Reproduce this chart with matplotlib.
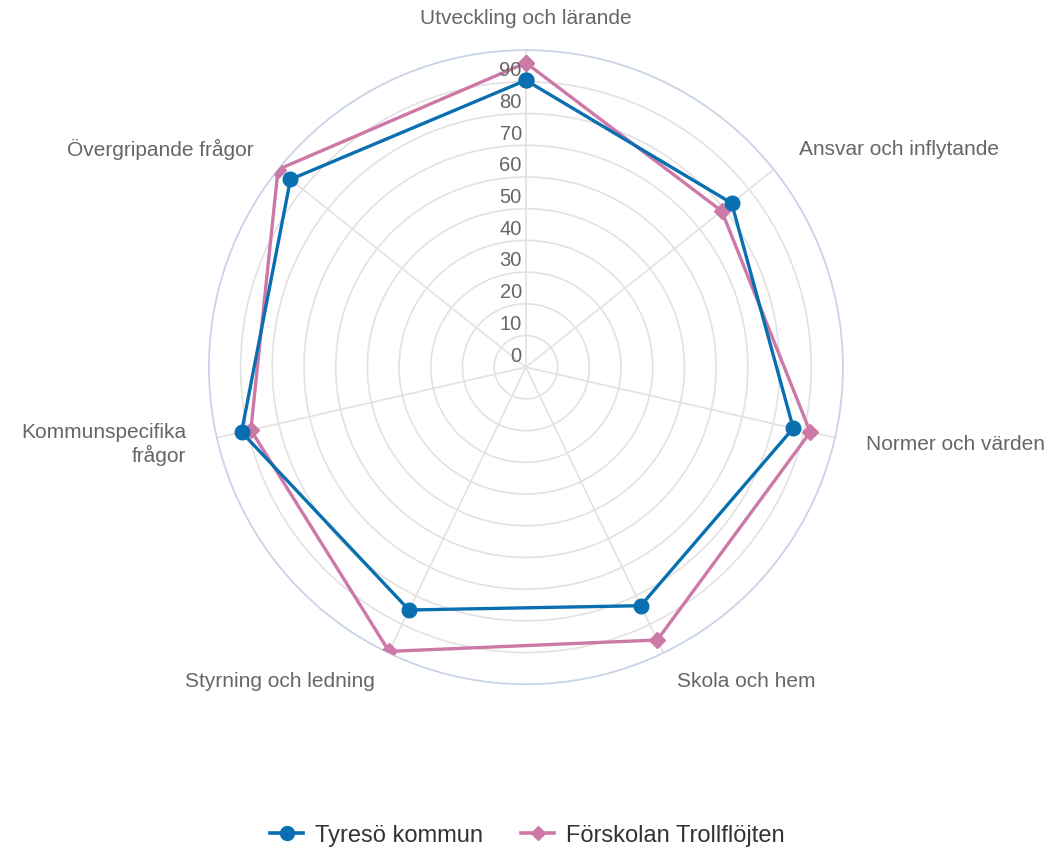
import numpy as np
import matplotlib
matplotlib.use("Agg")
import matplotlib.pyplot as plt
from matplotlib.lines import Line2D

# data
categories = ["Utveckling och lärande", "Ansvar och inflytande", "Normer och värden",
              "Skola och hem", "Styrning och ledning", "Kommunspecifika\nfrågor",
              "Övergripande frågor"]
tyreso = [90.5, 83, 86.5, 83.5, 85, 92, 95]
trollflojten = [96, 79, 92, 95.5, 99.5, 89, 100]
ticks = [0, 10, 20, 30, 40, 50, 60, 70, 80, 90]

blue = "#0a6fb0"
pink = "#cc79a7"
text_grey = "#666666"

plt.rcParams['font.family'] = ['Liberation Sans', 'DejaVu Sans']

fig = plt.figure(figsize=(10.55, 8.5), dpi=100)
ax = fig.add_axes([0.198, 0.195, 0.601, 0.746], projection='polar')
ax.set_theta_zero_location('N')
ax.set_theta_direction(-1)

n = len(categories)
angles = np.arange(n) * 2 * np.pi / n
closed = np.append(angles, angles[0])

ax.set_ylim(0, 100)
ax.set_rticks(ticks[1:])
ax.set_yticklabels([])
ax.set_xticks(angles)
ax.set_xticklabels([])
ax.grid(True, color="#e2e2e2", linewidth=1.2)
ax.spines['polar'].set_color("#c9d3e8")
ax.spines['polar'].set_linewidth(1.3)

# series
ax.plot(closed, tyreso + tyreso[:1], color=blue, linewidth=2.4, marker='o',
        markersize=10.5, zorder=4)
ax.plot(closed, trollflojten + trollflojten[:1], color=pink, linewidth=2.4, marker='D',
        markersize=8, zorder=3)

# radial tick labels
for t in ticks:
    ax.annotate(str(t), xy=(0, t), xytext=(-3, 8), textcoords='offset points',
                ha='right', va='center', fontsize=14.5, color=text_grey, zorder=5)

# category labels
for ang, lab in zip(angles, categories):
    s = np.sin(ang)
    if abs(s) < 0.05:
        ha = 'center'
    elif s > 0:
        ha = 'left'
    else:
        ha = 'right'
    ax.text(ang, 110, lab, ha=ha, va='center', fontsize=15, color=text_grey,
            multialignment='right', linespacing=1.15, clip_on=False)

handles = [Line2D([], [], color=blue, linewidth=2.6, marker='o', markersize=10),
           Line2D([], [], color=pink, linewidth=2.6, marker='D', markersize=7)]
fig.legend(handles, ["Tyresö kommun", "Förskolan Trollflöjten"], loc='center',
           bbox_to_anchor=(0.5, 0.017), ncol=2, frameon=False, fontsize=17,
           handlelength=1.4, handletextpad=0.5, columnspacing=1.6,
           labelcolor="#333333")

fig.savefig("out.png", dpi=100)
